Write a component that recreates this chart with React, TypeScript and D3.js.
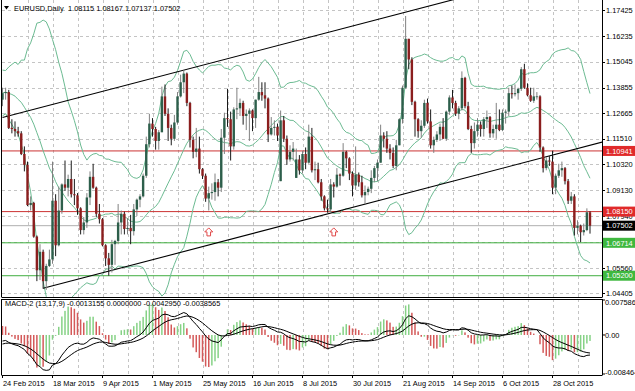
import React from "react";
import * as d3 from "d3";

// daily EURUSD bars, 24 Feb 2015 .. 13 Nov 2015
const open = [
  1.1330, 1.1360, 1.1365, 1.1200, 1.1195, 1.1185, 1.1175, 1.1080, 1.1030, 1.0845,
  1.0855, 1.0700, 1.0545, 1.0630, 1.0495, 1.0565, 1.0595, 1.0865, 1.0660, 1.0820,
  1.0940, 1.0925, 1.0965, 1.0895, 1.0890, 1.0830, 1.0730, 1.0765, 1.0880, 1.0975,
  1.0925, 1.0805, 1.0780, 1.0660, 1.0600, 1.0570, 1.0665, 1.0680, 1.0765, 1.0805,
  1.0735, 1.0740, 1.0725, 1.0825, 1.0870, 1.0885, 1.0980, 1.1125, 1.1220, 1.1195,
  1.1140, 1.1180, 1.1345, 1.1265, 1.1200, 1.1150, 1.1225, 1.1345, 1.1410, 1.1450,
  1.1315, 1.1145, 1.1090, 1.1105, 1.1010, 1.0980, 1.0875, 1.0900, 1.0905, 1.0950,
  1.0925, 1.1155, 1.1245, 1.1240, 1.1115, 1.1285, 1.1290, 1.1315, 1.1255, 1.1265,
  1.1280, 1.1245, 1.1330, 1.1365, 1.1350, 1.1335, 1.1170, 1.1200, 1.1205, 1.0955,
  1.1235, 1.1150, 1.1055, 1.1090, 1.0970, 1.1055, 1.1005, 1.1080, 1.1040, 1.1160,
  1.1005, 1.1010, 1.0950, 1.0885, 1.0830, 1.0825, 1.0940, 1.0930, 1.0985, 1.0980,
  1.1090, 1.1060, 1.0990, 1.0935, 1.0985, 1.0950, 1.0890, 1.0905, 1.0920, 1.0970,
  1.1015, 1.1040, 1.1165, 1.1150, 1.1105, 1.1085, 1.1025, 1.1120, 1.1240, 1.1385,
  1.1610, 1.1515, 1.1320, 1.1240, 1.1185, 1.1210, 1.1315, 1.1230, 1.1120, 1.1145,
  1.1170, 1.1205, 1.1150, 1.1275, 1.1340, 1.1315, 1.1265, 1.1290, 1.1430, 1.1300,
  1.1195, 1.1130, 1.1185, 1.1215, 1.1195, 1.1240, 1.1250, 1.1175, 1.1195, 1.1215,
  1.1190, 1.1270, 1.1275, 1.1360, 1.1355, 1.1360, 1.1380, 1.1470, 1.1385, 1.1350,
  1.1325, 1.1345, 1.1345, 1.1110, 1.1015, 1.1050, 1.1045, 1.0925, 1.0980, 1.1005,
  1.1015, 1.0955, 1.0865, 1.0885, 1.0740, 1.0750, 1.0720, 1.0730, 1.08115,
];
const high = [
  1.1385, 1.1385, 1.1375, 1.1240, 1.1230, 1.1205, 1.1185, 1.1115, 1.1045, 1.0885,
  1.0860, 1.0705, 1.0665, 1.0640, 1.0575, 1.0640, 1.1045, 1.0895, 1.0930, 1.0945,
  1.1050, 1.0985, 1.1050, 1.0965, 1.0900, 1.0835, 1.0790, 1.0900, 1.1000, 1.1035,
  1.0930, 1.0850, 1.0785, 1.0665, 1.0625, 1.0685, 1.0685, 1.0850, 1.0820, 1.0815,
  1.0785, 1.0800, 1.0850, 1.0875, 1.0895, 1.0990, 1.1160, 1.1265, 1.1245, 1.1205,
  1.1190, 1.1390, 1.1400, 1.1290, 1.1215, 1.1260, 1.1365, 1.1445, 1.1465, 1.1455,
  1.1320, 1.1160, 1.1200, 1.1160, 1.1015, 1.0990, 1.0930, 1.0945, 1.0990, 1.0965,
  1.1195, 1.1270, 1.1380, 1.1275, 1.1295, 1.1385, 1.1335, 1.1325, 1.1285, 1.1290,
  1.1285, 1.1330, 1.1435, 1.1410, 1.1410, 1.1340, 1.1250, 1.1235, 1.1220, 1.1280,
  1.1255, 1.1165, 1.1120, 1.1135, 1.1105, 1.1075, 1.1095, 1.1110, 1.1215, 1.1200,
  1.1045, 1.1040, 1.0965, 1.0890, 1.0870, 1.0965, 1.0950, 1.1015, 1.0990, 1.1130,
  1.1095, 1.1065, 1.1000, 1.1115, 1.0995, 1.0980, 1.0935, 1.0930, 1.1005, 1.1025,
  1.1055, 1.1215, 1.1180, 1.1185, 1.1125, 1.1110, 1.1145, 1.1245, 1.1395, 1.1715,
  1.1610, 1.1525, 1.1325, 1.1245, 1.1235, 1.1330, 1.1335, 1.1285, 1.1160, 1.1185,
  1.1220, 1.1245, 1.1280, 1.1350, 1.1375, 1.1325, 1.1300, 1.1460, 1.1435, 1.1320,
  1.1210, 1.1225, 1.1245, 1.1230, 1.1250, 1.1280, 1.1255, 1.1215, 1.1315, 1.1285,
  1.1285, 1.1285, 1.1385, 1.1395, 1.1400, 1.1385, 1.1480, 1.1495, 1.1405, 1.1385,
  1.1385, 1.1365, 1.1350, 1.1115, 1.1065, 1.1070, 1.1095, 1.0990, 1.1035, 1.1045,
  1.1020, 1.0965, 1.0905, 1.0895, 1.0775, 1.0755, 1.0760, 1.0830, 1.08167,
];
const low = [
  1.1300, 1.1330, 1.1195, 1.1175, 1.1160, 1.1160, 1.1075, 1.1000, 1.0840, 1.0820,
  1.0695, 1.0495, 1.0500, 1.0460, 1.0455, 1.0560, 1.0575, 1.0610, 1.0655, 1.0805,
  1.0910, 1.0885, 1.0880, 1.0845, 1.0800, 1.0710, 1.0710, 1.0740, 1.0845, 1.0920,
  1.0790, 1.0760, 1.0655, 1.0565, 1.0520, 1.0535, 1.0570, 1.0665, 1.0710, 1.0710,
  1.0710, 1.0665, 1.0705, 1.0795, 1.0835, 1.0880, 1.0970, 1.1110, 1.1160, 1.1100,
  1.1100, 1.1180, 1.1255, 1.1140, 1.1120, 1.1140, 1.1215, 1.1340, 1.1360, 1.1300,
  1.1110, 1.1060, 1.1065, 1.0990, 1.0965, 1.0860, 1.0820, 1.0870, 1.0865, 1.0885,
  1.0905, 1.1080, 1.1205, 1.1050, 1.1100, 1.1240, 1.1255, 1.1215, 1.1190, 1.1140,
  1.1185, 1.1200, 1.1325, 1.1325, 1.1290, 1.1135, 1.1165, 1.1165, 1.1140, 1.0955,
  1.1135, 1.1030, 1.1045, 1.1050, 1.0970, 1.0985, 1.0990, 1.1010, 1.1035, 1.0995,
  1.0960, 1.0945, 1.0865, 1.0820, 1.0810, 1.0810, 1.0880, 1.0925, 1.0935, 1.0975,
  1.1015, 1.0960, 1.0885, 1.0915, 1.0930, 1.0880, 1.0850, 1.0890, 1.0900, 1.0950,
  1.0955, 1.1040, 1.1110, 1.1085, 1.1055, 1.1015, 1.1005, 1.1120, 1.1220, 1.1380,
  1.1470, 1.1305, 1.1160, 1.1155, 1.1155, 1.1200, 1.1220, 1.1105, 1.1085, 1.1135,
  1.1140, 1.1150, 1.1140, 1.1260, 1.1290, 1.1255, 1.1240, 1.1280, 1.1290, 1.1190,
  1.1085, 1.1105, 1.1160, 1.1160, 1.1160, 1.1200, 1.1155, 1.1155, 1.1150, 1.1185,
  1.1185, 1.1220, 1.1255, 1.1335, 1.1345, 1.1330, 1.1370, 1.1380, 1.1345, 1.1320,
  1.1315, 1.1330, 1.1090, 1.0995, 1.1005, 1.1025, 1.0895, 1.0895, 1.0970, 1.0975,
  1.0940, 1.0850, 1.0850, 1.0705, 1.0710, 1.0675, 1.0705, 1.0725, 1.07137,
];
const close = [
  1.1360, 1.1365, 1.1200, 1.1195, 1.1185, 1.1175, 1.1080, 1.1030, 1.0845, 1.0855,
  1.0700, 1.0545, 1.0630, 1.0495, 1.0565, 1.0595, 1.0865, 1.0660, 1.0820, 1.0940,
  1.0925, 1.0965, 1.0895, 1.0890, 1.0830, 1.0730, 1.0765, 1.0880, 1.0975, 1.0925,
  1.0805, 1.0780, 1.0660, 1.0600, 1.0570, 1.0665, 1.0680, 1.0765, 1.0805, 1.0735,
  1.0740, 1.0725, 1.0825, 1.0870, 1.0885, 1.0980, 1.1125, 1.1220, 1.1195, 1.1140,
  1.1180, 1.1345, 1.1265, 1.1200, 1.1150, 1.1225, 1.1345, 1.1410, 1.1450, 1.1315,
  1.1145, 1.1090, 1.1105, 1.1010, 1.0980, 1.0875, 1.0900, 1.0905, 1.0950, 1.0925,
  1.1155, 1.1245, 1.1240, 1.1115, 1.1285, 1.1290, 1.1315, 1.1255, 1.1265, 1.1280,
  1.1245, 1.1330, 1.1365, 1.1350, 1.1335, 1.1170, 1.1200, 1.1205, 1.1165, 1.1235,
  1.1150, 1.1055, 1.1090, 1.1105, 1.1055, 1.1005, 1.1080, 1.1040, 1.1160, 1.1005,
  1.1010, 1.0950, 1.0885, 1.0830, 1.0825, 1.0940, 1.0930, 1.0985, 1.0980, 1.1090,
  1.1060, 1.0990, 1.0935, 1.0985, 1.0950, 1.0890, 1.0905, 1.0920, 1.0970, 1.1015,
  1.1040, 1.1165, 1.1150, 1.1105, 1.1085, 1.1025, 1.1120, 1.1240, 1.1385, 1.1610,
  1.1515, 1.1320, 1.1240, 1.1185, 1.1210, 1.1315, 1.1230, 1.1120, 1.1145, 1.1170,
  1.1205, 1.1150, 1.1275, 1.1340, 1.1315, 1.1265, 1.1290, 1.1430, 1.1300, 1.1195,
  1.1130, 1.1185, 1.1215, 1.1195, 1.1240, 1.1250, 1.1175, 1.1195, 1.1215, 1.1190,
  1.1270, 1.1275, 1.1360, 1.1355, 1.1360, 1.1380, 1.1470, 1.1385, 1.1350, 1.1325,
  1.1345, 1.1345, 1.1110, 1.1015, 1.1050, 1.1045, 1.0925, 1.0980, 1.1005, 1.1015,
  1.0955, 1.0865, 1.0885, 1.0740, 1.0750, 1.0720, 1.0730, 1.0812, 1.07502,
];

// closes before the visible window (2 Jan .. 23 Feb 2015), only used by the indicators
const warmupClose = [
  1.2000, 1.1935, 1.1890, 1.1840, 1.1790, 1.1840, 1.1835, 1.1770, 1.1780, 1.1630,
  1.1565, 1.1620, 1.1550, 1.1610, 1.1365, 1.1205, 1.1240, 1.1380, 1.1285, 1.1320,
  1.1290, 1.1340, 1.1480, 1.1345, 1.1480, 1.1315, 1.1320, 1.1325, 1.1330, 1.1400,
  1.1385, 1.1345, 1.1410, 1.1400, 1.1375, 1.1380, 1.1330,
];

const tickLabels = [
  "24 Feb 2015", "18 Mar 2015", "9 Apr 2015", "1 May 2015", "25 May 2015", "16 Jun 2015",
  "8 Jul 2015", "30 Jul 2015", "21 Aug 2015", "14 Sep 2015", "6 Oct 2015", "28 Oct 2015",
];
const priceTicks = [
  1.17425, 1.16235, 1.15045, 1.13855, 1.12665, 1.1151, 1.1032, 1.0913, 1.0794, 1.0675, 1.0556, 1.04405,
];
const macdTicks = [0.007586, 0, -0.008464];
const macdTickText = ["0.007586", "0.00", "-0.008464"];

const redLevels = [1.10941, 1.0815];
const greenLevels = [1.06714, 1.052];
const bidPrice = 1.07502;
const titleOHLC = ["1.08115", "1.08167", "1.07137", "1.07502"];
const macdValues = ["-0.0013155", "0.0000000", "-0.0042950", "-0.0038565"];

// channel anchors: [bar index, price]
const upperChannel = [[0, 1.1248], [140, 1.1774]];
const lowerChannel = [[13, 1.0462], [188, 1.112]];

const arrowBars = [66, 106];
const arrowPrices = [1.074, 1.074];

const W = 635;
const H = 391;
const left = 2;
const right = 602;
const mainBottom = 297;
const macdTop = 299;
const macdBottom = 375;
const font = "'Liberation Sans', Arial, sans-serif";

function ema(src: number[], p: number) {
  const k = 2 / (p + 1);
  const out: number[] = [];
  src.forEach((v, i) => out.push(i === 0 ? v : v * k + out[i - 1] * (1 - k)));
  return out;
}

const App = () => {
  const n = close.length;
  const x = d3.scaleLinear().domain([0, n - 1]).range([2.5, 590]);
  const y = d3.scaleLinear().domain([1.04405, 1.17425]).range([293, 10]);
  const ym = d3.scaleLinear().domain([-0.008464, 0.007586]).range([374, 300]);

  // indicators
  const all = warmupClose.concat(close);
  const off = warmupClose.length;
  const e13 = ema(all, 13);
  const e17 = ema(all, 17);
  const macdAll = all.map((_, i) => e13[i] - e17[i]);
  const sigAll = ema(macdAll, 9);
  const histAll = macdAll.map((m, i) => 3 * (m - sigAll[i]));
  const macd = macdAll.slice(off);
  const signal = sigAll.slice(off);
  const hist = histAll.slice(off);

  const bands = close.map((_, i) => {
    const win = all.slice(off + i - 19, off + i + 1);
    const m = d3.mean(win) as number;
    const sd = Math.sqrt(d3.mean(win.map((v) => (v - m) * (v - m))) as number);
    return { mid: m, up: m + 2 * sd, lo: m - 2 * sd };
  });

  const priceLine = d3.line<number>().x((_, i) => x(i)).y((d) => y(d));
  const macdLine = d3.line<number>().x((_, i) => x(i)).y((d) => ym(d));

  const ray = (pts: number[][]) => {
    const [[i0, p0], [i1, p1]] = pts;
    const slope = (p1 - p0) / (i1 - i0);
    const iEnd = 260;
    return { x1: x(i0), y1: y(p0), x2: x(iEnd), y2: y(p0 + slope * (iEnd - i0)) };
  };

  const gridX = d3.range(8, n, 8);
  const labelIdx = d3.range(0, n, 16);

  const up = upperChannel;
  const lo = lowerChannel;
  const r1 = ray(up);
  const r2 = ray(lo);

  return (
    <svg width={W} height={H} style={{ position: "absolute", left: 0, top: 0, background: "#fff" }}
      fontFamily={font} fontSize={7.4}>
      <defs>
        <clipPath id="mainClip"><rect x={left} y={0} width={right - left} height={mainBottom} /></clipPath>
        <clipPath id="macdClip"><rect x={left} y={macdTop} width={right - left} height={macdBottom - macdTop} /></clipPath>
      </defs>
      <rect x={0} y={0} width={W} height={H} fill="#fff" />

      {/* grid */}
      <g stroke="#c4c4c4" strokeDasharray="3,3" strokeWidth={1}>
        {priceTicks.map((p) => (
          <line key={p} x1={left} x2={right} y1={Math.round(y(p)) + 0.5} y2={Math.round(y(p)) + 0.5} />
        ))}
        {gridX.map((i) => (
          <g key={i}>
            <line x1={Math.round(x(i)) + 0.5} x2={Math.round(x(i)) + 0.5} y1={0} y2={mainBottom} />
            <line x1={Math.round(x(i)) + 0.5} x2={Math.round(x(i)) + 0.5} y1={macdTop} y2={macdBottom} />
          </g>
        ))}
      </g>

      <g clipPath="url(#mainClip)">
        {/* horizontal levels */}
        {redLevels.map((p) => (
          <line key={p} x1={left} x2={right} y1={y(p)} y2={y(p)} stroke="#cc3333" strokeWidth={1} />
        ))}
        {greenLevels.map((p) => (
          <line key={p} x1={left} x2={right} y1={y(p)} y2={y(p)} stroke="#3fae3f" strokeWidth={1} />
        ))}
        <line x1={left} x2={right} y1={y(bidPrice)} y2={y(bidPrice)} stroke="#b0b0b0" strokeWidth={1} />

        {/* bollinger bands */}
        <g fill="none" stroke="#6cbb92" strokeWidth={1}>
          <path d={priceLine(bands.map((b) => b.up)) as string} />
          <path d={priceLine(bands.map((b) => b.mid)) as string} />
          <path d={priceLine(bands.map((b) => b.lo)) as string} />
        </g>

        {/* channel */}
        <line {...r1} stroke="#000" strokeWidth={1.1} />
        <line {...r2} stroke="#000" strokeWidth={1.1} />

        {/* candles */}
        {close.map((c, i) => {
          const o = open[i];
          const bull = c >= o;
          const cx = x(i);
          const top = y(Math.max(o, c));
          const bot = y(Math.min(o, c));
          return (
            <g key={i}>
              <line x1={cx} x2={cx} y1={y(high[i])} y2={y(low[i])}
                stroke={bull ? "#808080" : "#1a1a1a"} strokeWidth={1} />
              <rect x={cx - 1.2} width={2.4} y={top} height={Math.max(bot - top, 0.8)}
                fill={bull ? "#2d5f4b" : "#8b1e1e"} />
            </g>
          );
        })}

        {/* arrows */}
        {arrowBars.map((b, k) => {
          const ax = x(b);
          const ay = y(arrowPrices[k]);
          const pts = [[0, 0], [4, 4], [1.8, 4], [1.8, 8], [-1.8, 8], [-1.8, 4], [-4, 4]]
            .map(([dx, dy]) => `${ax + dx},${ay + dy}`).join(" ");
          return <polygon key={b} points={pts} fill="#fff" stroke="#e04848" strokeWidth={1} />;
        })}
      </g>

      {/* macd */}
      <g clipPath="url(#macdClip)">
        {hist.map((h, i) => {
          const prev = histAll[off + i - 1];
          const rising = h > prev;
          const y0 = ym(0);
          const yv = ym(h);
          return (
            <rect key={i} x={x(i) - 0.75} width={1.5} y={Math.min(y0, yv)} height={Math.abs(yv - y0)}
              fill={rising ? "#86d286" : "#d45a5a"} />
          );
        })}
        <path d={macdLine(macd) as string} fill="none" stroke="#000" strokeWidth={1} />
        <path d={macdLine(signal) as string} fill="none" stroke="#000" strokeWidth={1} />
      </g>

      {/* frames */}
      <g stroke="#000" strokeWidth={1} fill="none">
        <line x1={1.5} x2={1.5} y1={0} y2={mainBottom} />
        <line x1={right + 0.5} x2={right + 0.5} y1={0} y2={mainBottom} />
        <line x1={1.5} x2={right + 0.5} y1={mainBottom + 0.5} y2={mainBottom + 0.5} />
        <line x1={1.5} x2={right + 0.5} y1={macdTop + 0.5} y2={macdTop + 0.5} />
        <line x1={1.5} x2={1.5} y1={macdTop} y2={macdBottom} />
        <line x1={right + 0.5} x2={right + 0.5} y1={macdTop} y2={macdBottom} />
        <line x1={1.5} x2={right + 0.5} y1={macdBottom + 0.5} y2={macdBottom + 0.5} />
      </g>

      {/* price axis */}
      {priceTicks.map((p) => (
        <g key={p}>
          <line x1={right} x2={right + 3} y1={Math.round(y(p)) + 0.5} y2={Math.round(y(p)) + 0.5} stroke="#000" />
          <text x={606} y={y(p) + 2.7} fill="#000">{p.toFixed(5)}</text>
        </g>
      ))}
      {redLevels.map((p) => (
        <g key={p}>
          <rect x={603} y={y(p) - 5} width={32} height={10} fill="#e02a2a" />
          <text x={606} y={y(p) + 2.7} fill="#fff">{p.toFixed(5)}</text>
        </g>
      ))}
      {greenLevels.map((p) => (
        <g key={p}>
          <rect x={603} y={y(p) - 5} width={32} height={10} fill="#3fb83f" />
          <text x={606} y={y(p) + 2.7} fill="#fff">{p.toFixed(5)}</text>
        </g>
      ))}
      <rect x={603} y={y(bidPrice) - 5} width={32} height={10} fill="#000" />
      <text x={606} y={y(bidPrice) + 2.7} fill="#fff">{bidPrice.toFixed(5)}</text>

      {/* macd axis */}
      {macdTicks.map((v, k) => (
        <g key={v}>
          <line x1={right} x2={right + 3} y1={ym(v)} y2={ym(v)} stroke="#000" />
          <text x={605} y={Math.min(Math.max(ym(v) + 2.7, macdTop + 6), macdBottom)} fill="#000">{macdTickText[k]}</text>
        </g>
      ))}

      {/* time axis */}
      {labelIdx.map((i, k) => (
        <g key={i}>
          <line x1={x(i)} x2={x(i)} y1={macdBottom} y2={macdBottom + 3} stroke="#000" />
          <text x={x(i) + 0.5} y={386} fill="#000">{tickLabels[k]}</text>
        </g>
      ))}

      {/* titles */}
      <path d="M4,6 L9,6 L6.5,9.5 Z" fill="#000" />
      <text x={14} y={11} fill="#000">EURUSD,Daily</text>
      <text x={68} y={11} fill="#000">{titleOHLC.join(" ")}</text>
      <text x={5} y={306} fill="#000">{"MACD-2 (13,17,9) " + macdValues.join(" ")}</text>
    </svg>
  );
};

export default App;
